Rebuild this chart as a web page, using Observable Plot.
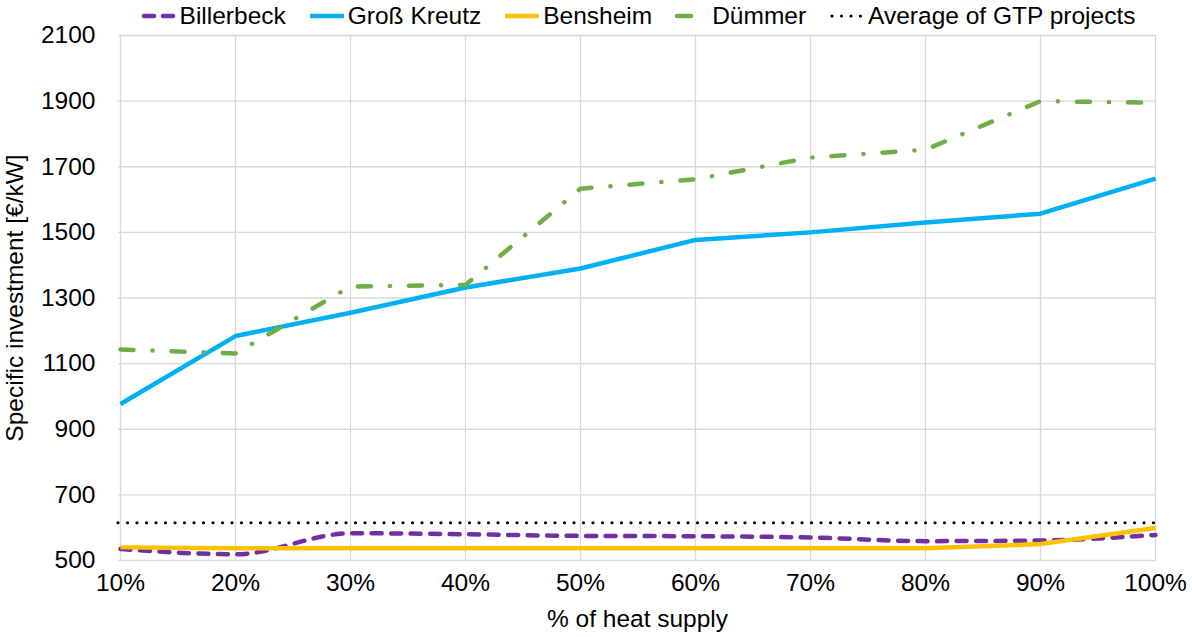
<!DOCTYPE html>
<html><head><meta charset="utf-8">
<script src="https://cdn.jsdelivr.net/npm/d3@7"></script>
<script src="https://cdn.jsdelivr.net/npm/@observablehq/plot@0.6"></script>
<style>
body{margin:0;background:#fff;font-family:"Liberation Sans",Arial,sans-serif;}
#legend{height:32px;box-sizing:border-box;padding-left:84px;display:flex;justify-content:center;align-items:center;gap:23px;font-size:24.5px;color:#000;}
.item{display:flex;align-items:center;gap:3px;white-space:nowrap}
.item svg{display:block}
</style></head><body>
<div id="legend"></div><div id="chart"></div>
<script>
// Data
const heatShares = ["10%","20%","30%","40%","50%","60%","70%","80%","90%","100%"];
const billerbeck = [535,519,583,580,575,574,570,559,561,578];
const grossKreutz = [977,1184,1255,1332,1390,1477,1500,1530,1557,1664];
const bensheim = [540,537,537,537,537,537,537,537,550,599];
const duemmer = [1143,1131,1335,1340,1633,1662,1728,1752,1900,1895];
const gtpAverage = 615;
const yTicks = [500,700,900,1100,1300,1500,1700,1900,2100];
const seriesNames = ["Billerbeck","Groß Kreutz","Bensheim","Dümmer","Average of GTP projects"];

const styles = {
  "Billerbeck": {stroke:"#7030A0", strokeWidth:4.5, strokeDasharray:"10,9.5", strokeLinecap:"round"},
  "Groß Kreutz": {stroke:"#00B0F0", strokeWidth:4.5, strokeLinecap:"butt"},
  "Bensheim": {stroke:"#FFC000", strokeWidth:4.5, strokeLinecap:"butt"},
  "Dümmer": {stroke:"#70AD47", strokeWidth:4.5, strokeDasharray:"13,19,0.1,19", strokeLinecap:"round"},
  "Average of GTP projects": {stroke:"#000", strokeWidth:3.2, strokeDasharray:"0,9.5", strokeLinecap:"round"}
};
const seriesValues = {"Billerbeck":billerbeck,"Groß Kreutz":grossKreutz,"Bensheim":bensheim,"Dümmer":duemmer};
const rows = name => heatShares.map((x,i)=>({x, y: seriesValues[name][i]}));

// Legend
const legend = document.getElementById("legend");
const swatch = {
  "Billerbeck": '<line x1="3" x2="33" y1="6" y2="6" stroke="#7030A0" stroke-width="4.5" stroke-dasharray="10,9" stroke-linecap="round"/>',
  "Groß Kreutz": '<line x1="1" x2="35" y1="6" y2="6" stroke="#00B0F0" stroke-width="4.5"/>',
  "Bensheim": '<line x1="1" x2="35" y1="6" y2="6" stroke="#FFC000" stroke-width="4.5"/>',
  "Dümmer": '<line x1="2" x2="16" y1="6" y2="6" stroke="#70AD47" stroke-width="4.5" stroke-linecap="round"/>',
  "Average of GTP projects": '<line x1="3" x2="35" y1="6" y2="6" stroke="#000" stroke-width="3.2" stroke-dasharray="0,9.5" stroke-linecap="round"/>'
};
for (const name of seriesNames) {
  const d = document.createElement("div");
  d.className = "item";
  const w = name === "Dümmer" ? 34 : 36;
  d.innerHTML = `<svg width="${w}" height="12">${swatch[name]}</svg><span>${name}</span>`;
  legend.appendChild(d);
}

const chart = Plot.plot({
  width: 1192, height: 605,
  marginTop: 3, marginBottom: 77, marginLeft: 118, marginRight: 36,
  style: {fontFamily: '"Liberation Sans", Arial, sans-serif', fontSize: "24.5px", color: "#000", background: "#fff", overflow: "visible"},
  x: {type: "point", domain: heatShares, padding: 0},
  y: {domain: [500, 2100]},
  marks: [
    Plot.gridX(heatShares, {stroke: "#d9d9d9", strokeOpacity: 1, strokeWidth: 1.3}),
    Plot.gridY(yTicks, {stroke: "#d9d9d9", strokeOpacity: 1, strokeWidth: 1.3}),
    Plot.axisX({tickSize: 0, tickPadding: 13, fill: "#000", label: "% of heat supply", labelAnchor: "center", labelArrow: "none", labelOffset: 66}),
    Plot.axisY(yTicks, {tickSize: 0, tickPadding: 23, fill: "#000", tickFormat: d => String(d), label: "Specific investment [€/kW]", labelAnchor: "center", labelArrow: "none", labelOffset: 113}),
    Plot.ruleY([gtpAverage], styles["Average of GTP projects"]),
    Plot.line(rows("Billerbeck"), {x: "x", y: "y", curve: "monotone-x", ...styles["Billerbeck"]}),
    Plot.line(rows("Groß Kreutz"), {x: "x", y: "y", ...styles["Groß Kreutz"]}),
    Plot.line(rows("Bensheim"), {x: "x", y: "y", ...styles["Bensheim"]}),
    Plot.line(rows("Dümmer"), {x: "x", y: "y", ...styles["Dümmer"]})
  ]
});
document.getElementById("chart").appendChild(chart);
</script>
</body></html>
